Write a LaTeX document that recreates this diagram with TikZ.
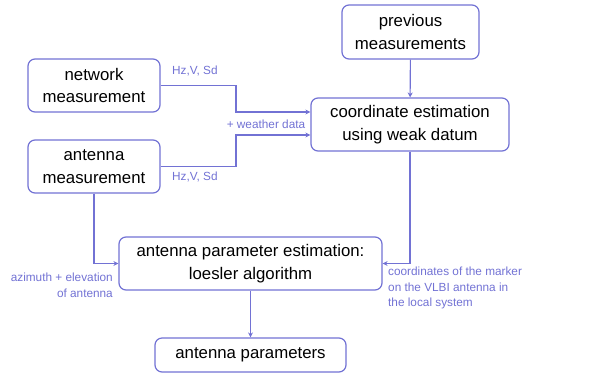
\documentclass[tikz,border=0pt]{standalone}
\usepackage{fontspec}
\setmainfont{Liberation Sans}
\usepackage{xcolor}
\usetikzlibrary{arrows.meta}

\definecolor{flowblue}{RGB}{114,114,212}

\begin{document}
\begin{tikzpicture}[x=1pt,y=-1pt,
	box/.style={draw=flowblue, line width=1.2pt, rounded corners=7pt, align=center,
		font=\fontsize{16.8}{22.5}\selectfont, inner sep=0pt},
	flow/.style={draw=flowblue, line width=1.1pt, -{Stealth[length=5pt,width=5pt]}},
	note/.style={text=flowblue, font=\fontsize{11.8}{15.8}\selectfont, inner sep=0pt}]
	\useasboundingbox (0,0) rectangle (610,373);

	% boxes
	\node[box, minimum width=132pt, minimum height=53pt] (net) at (94,85.5) {network\\measurement};
	\node[box, minimum width=132pt, minimum height=53pt] (ant) at (94,166.5) {antenna\\measurement};
	\node[box, minimum width=137pt, minimum height=54pt] (prev) at (410.5,32) {previous\\measurements};
	\node[box, minimum width=198pt, minimum height=53pt] (coord) at (410,124.5) {coordinate estimation\\using weak datum};
	\node[box, minimum width=263pt, minimum height=53pt] (est) at (250.5,263.5) {antenna parameter estimation:\\loesler algorithm};
	\node[box, minimum width=191pt, minimum height=34pt] (par) at (250.5,355) {antenna parameters};

	% bends
	\coordinate (bendA) at (236,112);
	\coordinate (bendB) at (236,135);
	\coordinate (inA) at ([yshift=12.5pt]coord.west);
	\coordinate (inB) at ([yshift=-10.5pt]coord.west);

	% connectors
	\draw[flow] (net.east) -| (bendA) -- (inA);
	\draw[flow] (ant.east) -| (bendB) -- (inB);
	\draw[flow] (prev) -- (coord);
	\draw[flow] (coord.south) |- (est.east);
	\draw[flow] (ant.south) |- (est.west);
	\draw[flow] (est) -- (par);

	% labels
	\node[note, anchor=west] (hzA) at (172,71) {Hz,V, Sd};
	\node[note, anchor=west] (hzB) at (172,177) {Hz,V, Sd};
	\node[note] (wx) at (266,124) {+ weather data};
	\node[note, anchor=east, align=right] (azel) at (113,285.5) {azimuth + elevation\\of antenna};
	\node[note, anchor=west, align=left] (mark) at (388,288) {coordinates of the marker\\on the VLBI antenna in\\the local system};
\end{tikzpicture}
\end{document}
